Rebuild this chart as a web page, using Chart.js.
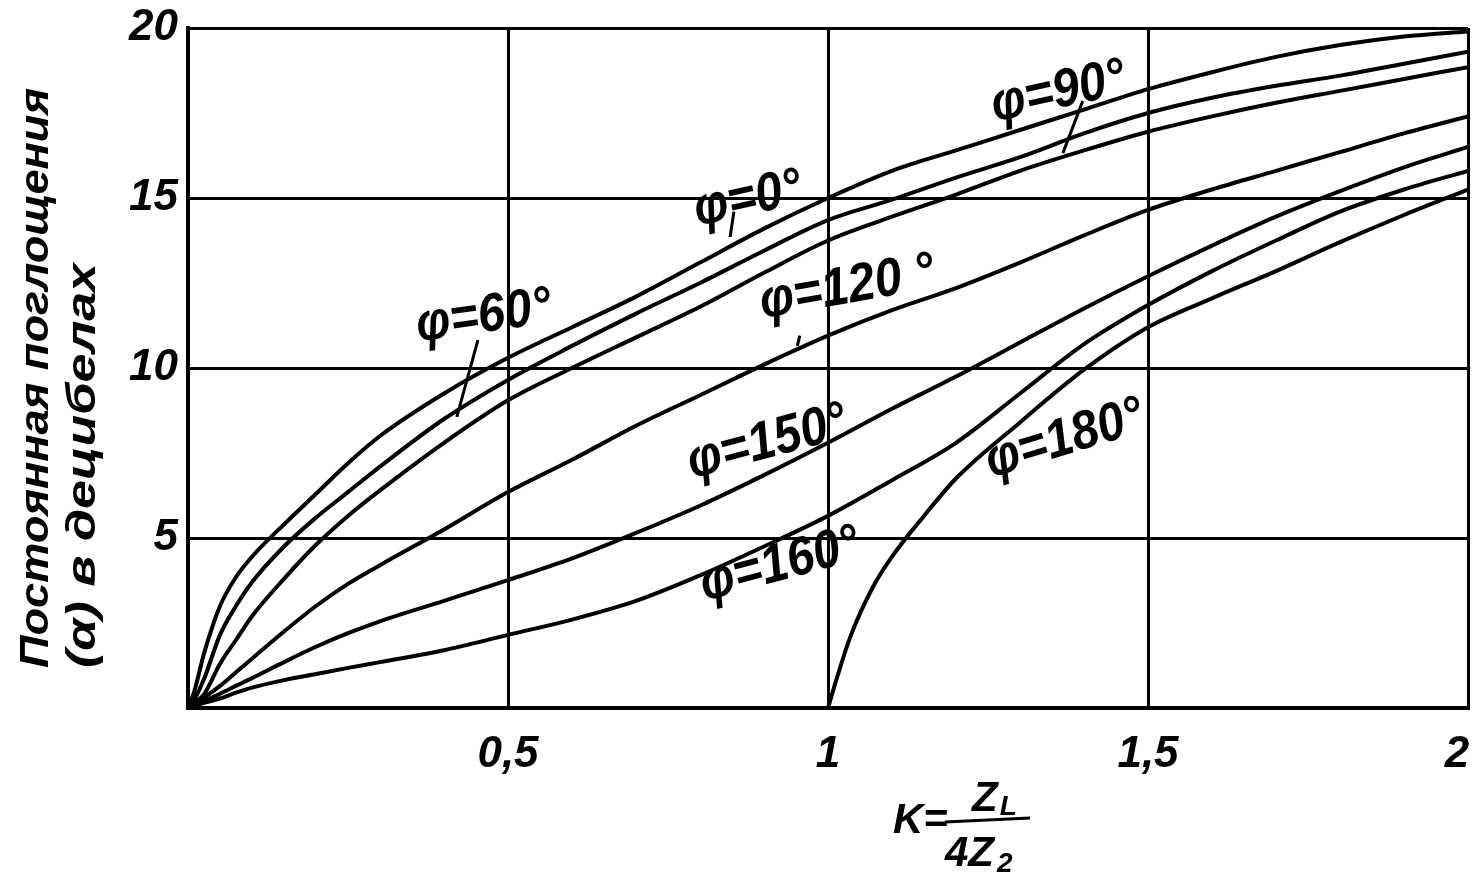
<!DOCTYPE html>
<html>
<head>
<meta charset="utf-8">
<script src="https://cdn.jsdelivr.net/npm/chart.js@4.4.1/dist/chart.umd.min.js"></script>
<style>
  html, body { margin: 0; padding: 0; background: #fff; }
  #wrap { width: 1478px; height: 874px; }
</style>
</head>
<body>
<div id="wrap"><canvas id="attChart"></canvas></div>
<script>
'use strict';
// K = Z1 / 4Z2 (decibels)
const kValues = [0, 0.01, 0.025, 0.05, 0.075, 0.1, 0.15, 0.2, 0.25, 0.3, 0.4, 0.5, 0.6, 0.7, 0.8, 0.9,
                 1.0, 1.1, 1.2, 1.3, 1.4, 1.5, 1.6, 1.7, 1.8, 1.9, 2.0];
const phi0   = [0, 0.5, 1.6, 3.0, 3.85, 4.45, 5.4, 6.3, 7.2, 8.0, 9.25, 10.3, 11.2, 12.1, 13.1, 14.1,
                15.0, 15.8, 16.4, 17.0, 17.6, 18.2, 18.7, 19.15, 19.5, 19.75, 19.9];
const phi60  = [0, 0.25, 0.85, 2.15, 3.0, 3.7, 4.75, 5.6, 6.35, 7.1, 8.5, 9.65, 10.65, 11.6, 12.5, 13.45,
                14.35, 14.95, 15.6, 16.2, 16.9, 17.5, 17.95, 18.3, 18.6, 18.95, 19.3];
const phi90  = [0, 0.15, 0.4, 1.3, 2.0, 2.7, 3.8, 4.8, 5.65, 6.4, 7.8, 9.05, 10.0, 10.9, 11.8, 12.8,
                13.75, 14.45, 15.1, 15.8, 16.4, 16.95, 17.4, 17.8, 18.15, 18.5, 18.85];
const phi120 = [0, 0.1, 0.3, 0.65, 1.05, 1.45, 2.25, 3.0, 3.65, 4.2, 5.25, 6.35, 7.3, 8.3, 9.2, 10.1,
                10.95, 11.7, 12.35, 13.1, 13.9, 14.65, 15.25, 15.8, 16.35, 16.9, 17.4];
const phi150 = [0, 0.08, 0.2, 0.42, 0.65, 0.88, 1.35, 1.8, 2.2, 2.55, 3.15, 3.76, 4.4, 5.15, 5.95, 6.85,
                7.8, 8.8, 9.75, 10.75, 11.75, 12.7, 13.6, 14.45, 15.2, 15.9, 16.5];
const phi160 = [0, 0.06, 0.15, 0.28, 0.45, 0.6, 0.82, 1.0, 1.18, 1.35, 1.7, 2.15, 2.6, 3.15, 3.9, 4.75,
                5.65, 6.7, 7.8, 9.25, 10.7, 11.85, 12.85, 13.75, 14.6, 15.25, 15.8];
// phi = 180 deg only starts at K = 1
const k180   = [1.0, 1.015, 1.035, 1.07, 1.1, 1.15, 1.2, 1.3, 1.4, 1.5, 1.6, 1.7, 1.8, 1.9, 2.0];
const phi180 = [0, 0.95, 2.1, 3.55, 4.45, 5.65, 6.75, 8.4, 9.95, 11.2, 12.05, 12.85, 13.7, 14.5, 15.25];

const curveNames = ['φ=0°', 'φ=60°', 'φ=90°', 'φ=120 °', 'φ=150°', 'φ=160°', 'φ=180°'];
const yTitle = ['Постоянная поглощения', '(α) в децибелах'];

// label anchor (in K / dB) and tilt
const curveLabels = [
    { text: curveNames[0], k: 0.875, v: 14.95, rot: -12 },
    { text: curveNames[1], k: 0.462, v: 11.5,  rot: -8 },
    { text: curveNames[2], k: 1.36,  v: 18.1,  rot: -12 },
    { text: curveNames[3], k: 1.03,  v: 12.35, rot: -10 },
    { text: curveNames[4], k: 0.905, v: 7.8,   rot: -15 },
    { text: curveNames[5], k: 0.925, v: 4.2,   rot: -15 },
    { text: curveNames[6], k: 1.37,  v: 7.9,   rot: -17 }
];
// little leader strokes from label to curve
const leaders = [
    [0.853, 14.6, 0.847, 13.85],
    [0.453, 10.82, 0.42, 8.56],
    [1.398, 17.85, 1.367, 16.32],
    [0.956, 10.95, 0.952, 10.65]
];

const FONT = '"Liberation Sans", "DejaVu Sans", sans-serif';

function toPoints(ks, vals) {
    return ks.map((k, i) => ({ x: k, y: vals[i] }));
}

function curve(ks, vals) {
    return {
        data: toPoints(ks, vals),
        borderColor: '#000',
        borderWidth: 4,
        pointRadius: 0,
        fill: false,
        cubicInterpolationMode: 'monotone'
    };
}

const labelPlugin = {
    id: 'plateText',
    afterDatasetsDraw(chart) {
        const ctx = chart.ctx;
        const xs = chart.scales.x;
        const ys = chart.scales.y;
        ctx.save();
        ctx.fillStyle = '#000';
        ctx.strokeStyle = '#000';
        // curve names
        ctx.font = 'italic bold 54px ' + FONT;
        ctx.textAlign = 'center';
        ctx.textBaseline = 'middle';
        curveLabels.forEach(l => {
            ctx.save();
            ctx.translate(xs.getPixelForValue(l.k), ys.getPixelForValue(l.v));
            ctx.rotate(l.rot * Math.PI / 180);
            ctx.scale(0.9, 1);
            ctx.fillText(l.text, 0, 0);
            ctx.restore();
        });
        ctx.lineWidth = 3;
        leaders.forEach(s => {
            ctx.beginPath();
            ctx.moveTo(xs.getPixelForValue(s[0]), ys.getPixelForValue(s[1]));
            ctx.lineTo(xs.getPixelForValue(s[2]), ys.getPixelForValue(s[3]));
            ctx.stroke();
        });

        // y title, two rotated lines, stretched to plate length
        const lens = [580, 405];
        const cx = [37, 84];
        ctx.font = 'italic bold 40px ' + FONT;
        ctx.textAlign = 'left';
        yTitle.forEach((t, i) => {
            const w = ctx.measureText(t).width;
            ctx.save();
            ctx.translate(cx[i], 668);
            ctx.rotate(-Math.PI / 2);
            ctx.scale(lens[i] / w, 1);
            ctx.fillText(t, 0, 0);
            ctx.restore();
        });

        // x title: K = Z_L / 4Z_2
        ctx.textBaseline = 'alphabetic';
        ctx.font = 'italic bold 42px ' + FONT;
        ctx.fillText('K=', 893, 833);
        ctx.lineWidth = 3;
        ctx.beginPath();
        ctx.moveTo(945, 822);
        ctx.lineTo(1030, 818);
        ctx.stroke();
        ctx.fillText('Z', 972, 811);
        ctx.fillText('4Z', 945, 866);
        const zw = ctx.measureText('Z').width;
        const dw = ctx.measureText('4Z').width;
        ctx.font = 'italic bold 28px ' + FONT;
        ctx.fillText('L', 972 + zw + 2, 815);
        ctx.fillText('2', 945 + dw + 3, 872);
        ctx.restore();
    }
};

new Chart(document.getElementById('attChart'), {
    type: 'line',
    data: {
        datasets: [
            curve(kValues, phi0),
            curve(kValues, phi60),
            curve(kValues, phi90),
            curve(kValues, phi120),
            curve(kValues, phi150),
            curve(kValues, phi160),
            curve(k180, phi180)
        ]
    },
    options: {
        responsive: true,
        maintainAspectRatio: false,
        animation: false,
        layout: { padding: { left: 0, right: 10, top: 28, bottom: 0 } },
        plugins: {
            legend: { display: false },
            tooltip: { enabled: false }
        },
        scales: {
            x: {
                type: 'linear',
                min: 0,
                max: 2,
                afterFit: s => { s.height = 166; s.paddingLeft = 0; s.paddingRight = 0; },
                ticks: {
                    stepSize: 0.5,
                    color: '#000',
                    padding: 20,
                    maxRotation: 0,
                    font: { family: FONT, size: 44, style: 'italic', weight: 'bold' },
                    callback: v => v === 0 ? '' : (v === 2 ? '2\u2002' : String(v).replace('.', ','))
                },
                grid: { color: '#000', lineWidth: 3, drawTicks: false },
                border: { color: '#000', width: 4 }
            },
            y: {
                min: 0,
                max: 20,
                afterFit: s => { s.width = 188; s.paddingTop = 0; s.paddingBottom = 0; },
                ticks: {
                    stepSize: 5,
                    color: '#000',
                    padding: 10,
                    font: { family: FONT, size: 44, style: 'italic', weight: 'bold' },
                    callback: v => v === 0 ? '' : v
                },
                grid: { color: '#000', lineWidth: 3, drawTicks: false },
                border: { color: '#000', width: 4 }
            }
        }
    },
    plugins: [labelPlugin]
});
</script>
</body>
</html>
